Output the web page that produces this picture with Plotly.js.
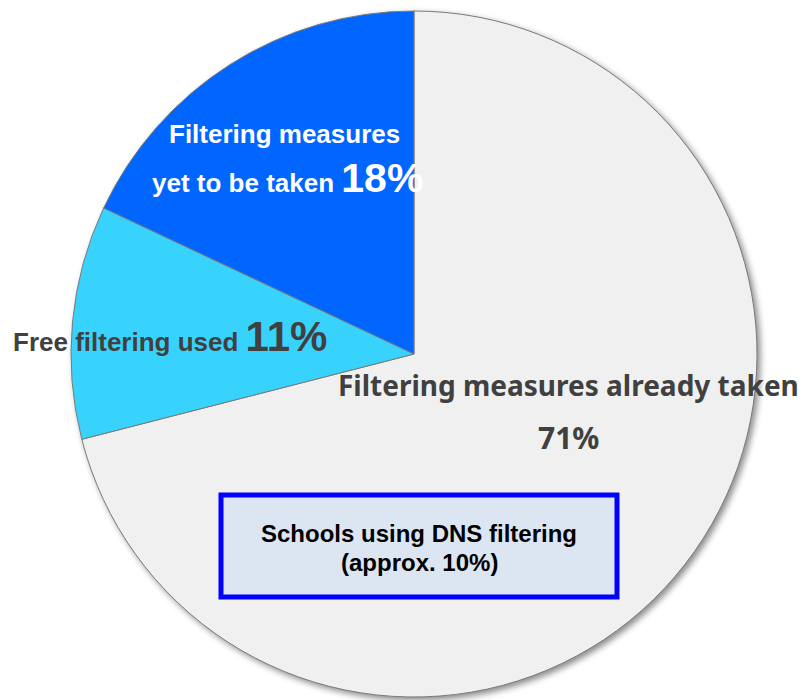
<!DOCTYPE html>
<html>
<head>
<meta charset="utf-8">
<script src="https://cdn.plot.ly/plotly-3.0.1.min.js"></script>
<style>
  html, body { margin: 0; padding: 0; background: #ffffff; }
  #chart { width: 803px; height: 700px; }
  .pielayer g.trace { filter: drop-shadow(3px 3px 3px rgba(0,0,0,0.45)); }
</style>
</head>
<body>
<div id="chart"></div>
<script>
// Share of schools by filtering status (percent)
const categories = ['Filtering measures already taken', 'Free filtering used', 'Filtering measures yet to be taken'];
const values = [71, 11, 18];
const sliceColors = ['#F0F0F0', '#38D3FD', '#0066FF'];
const noteLines = ['Schools using DNS filtering', '(approx. 10%)'];

const W = 803, H = 700;
const px = x => x / W;
const py = y => 1 - y / H;

const pie = {
  type: 'pie',
  labels: categories,
  values: values,
  sort: false,
  direction: 'clockwise',
  rotation: 0,
  textinfo: 'none',
  hoverinfo: 'label+percent',
  marker: { colors: sliceColors, line: { color: '#7a7a7a', width: 1 } },
  domain: { x: [px(71), px(757)], y: [py(697), py(11)] },
  showlegend: false
};

const arial = 'Liberation Sans, Arial, sans-serif';
const gothic = 'Noto Sans, Open Sans, sans-serif';

const annotations = [
  { x: px(284), y: py(134), text: '<b>Filtering measures</b>',
    font: { family: arial, size: 26, color: '#ffffff' } },
  { x: px(287), y: py(178),
    text: '<b>yet to be taken <span style="font-size:41px">' + values[2] + '%</span></b>',
    font: { family: arial, size: 26, color: '#ffffff' } },
  { x: px(170), y: py(336),
    text: '<b>Free filtering used <span style="font-size:42px">' + values[1] + '%</span></b>',
    font: { family: arial, size: 26, color: '#404040' } },
  { x: px(568), y: py(385), text: '<b>' + categories[0] + '</b>',
    font: { family: gothic, size: 28, color: '#404040' } },
  { x: px(568), y: py(438), text: '<b>' + values[0] + '%</b>',
    font: { family: gothic, size: 30, color: '#404040' } },
  { x: px(419), y: py(533), text: '<b>' + noteLines[0] + '</b>',
    font: { family: arial, size: 24, color: '#000000' } },
  { x: px(419), y: py(562), text: '<b>' + noteLines[1] + '</b>',
    font: { family: arial, size: 24, color: '#000000' } }
].map(a => Object.assign({ xref: 'paper', yref: 'paper', showarrow: false,
                            xanchor: 'center', yanchor: 'middle' }, a));

const layout = {
  width: W, height: H,
  margin: { l: 0, r: 0, t: 0, b: 0 },
  paper_bgcolor: '#ffffff',
  plot_bgcolor: '#ffffff',
  showlegend: false,
  shapes: [{
    type: 'rect', xref: 'paper', yref: 'paper',
    x0: px(221), x1: px(617), y0: py(597), y1: py(495),
    line: { color: '#0000FF', width: 5 },
    fillcolor: '#DCE6F2'
  }],
  annotations: annotations
};

Plotly.newPlot('chart', [pie], layout, { displayModeBar: false, staticPlot: true });
</script>
</body>
</html>
